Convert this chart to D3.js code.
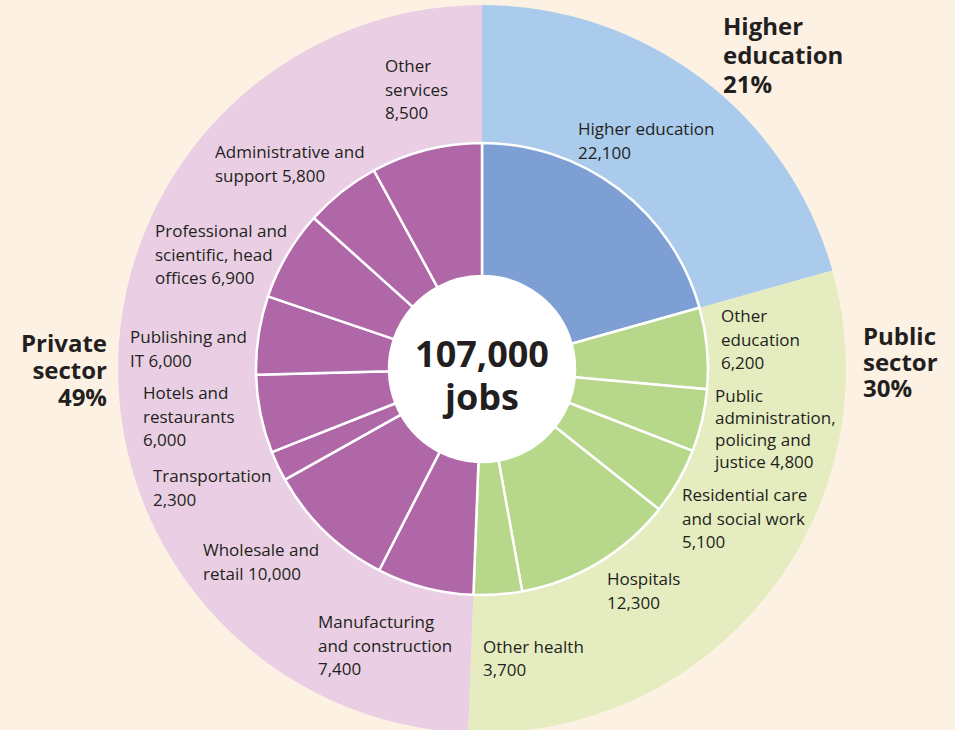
<!DOCTYPE html>
<html>
<head>
<meta charset="utf-8">
<script src="https://cdn.jsdelivr.net/npm/d3@7"></script>
<style>
  body { margin: 0; background: #fdf1e4; }
  svg { display: block; }
  text { font-family: "Open Sans", "Noto Sans", sans-serif; fill: #231f20; }
  .lbl { font-size: 17px; }
  .sector { font-size: 24px; font-weight: 700; }
  .centre { font-weight: 700; }
</style>
</head>
<body>
<svg class="donut" width="955" height="730"></svg>
<script>
// data
var categories = ["Higher education", "Other education", "Public administration", "Residential care",
  "Hospitals", "Other health", "Manufacturing and construction", "Wholesale and retail",
  "Transportation", "Hotels and restaurants", "Publishing and IT", "Professional and scientific",
  "Administrative and support", "Other services"];
var jobs = [22100, 6200, 4800, 5100, 12300, 3700, 7400, 10000, 2300, 6000, 6000, 6900, 5800, 8500];
var sectorOf = [0, 1, 1, 1, 1, 1, 2, 2, 2, 2, 2, 2, 2, 2];
var sectors = ["Higher education", "Public sector", "Private sector"];

// label text, {v} is replaced by the job count
var labelLines = [
  ["Higher education", "{v}"],
  ["Other", "education", "{v}"],
  ["Public", "administration,", "policing and", "justice {v}"],
  ["Residential care", "and social work", "{v}"],
  ["Hospitals", "{v}"],
  ["Other health", "{v}"],
  ["Manufacturing", "and construction", "{v}"],
  ["Wholesale and", "retail {v}"],
  ["Transportation", "{v}"],
  ["Hotels and", "restaurants", "{v}"],
  ["Publishing and", "IT {v}"],
  ["Professional and", "scientific, head", "offices {v}"],
  ["Administrative and", "support {v}"],
  ["Other", "services", "{v}"]
];
var sectorLines = [["Higher", "education", "{p}%"], ["Public", "sector", "{p}%"], ["Private", "sector", "{p}%"]];

// hand placed label spots (top line baseline)
var labelPos = [
  {x: 578, y: 135, dy: 23.5}, {x: 721, y: 322, dy: 23.5}, {x: 715, y: 402, dy: 22},
  {x: 682, y: 501, dy: 23.5}, {x: 607, y: 585, dy: 23.5}, {x: 483, y: 653, dy: 23},
  {x: 318, y: 628, dy: 23.5}, {x: 203, y: 556, dy: 23.5}, {x: 153, y: 482, dy: 23.5},
  {x: 143, y: 399, dy: 23.5}, {x: 130, y: 343, dy: 23.5}, {x: 155, y: 237, dy: 23.5},
  {x: 215, y: 158, dy: 23.5}, {x: 385, y: 72, dy: 23.5}
];
var sectorPos = [
  {x: 723, y: 35, dy: 29, anchor: "start"},
  {x: 863, y: 345, dy: 26, anchor: "start"},
  {x: 107, y: 352, dy: 27, anchor: "end"}
];

var outerColors = ["#aacbec", "#e5edc0", "#eacfe4"];
var innerColors = ["#7e9fd4", "#b7d88a", "#b067a8"];

var svg = d3.select('svg.donut');
var cx = 482, cy = 369;
var rOuter = 364, rRing = 226, rHole = 93;

var fmt = d3.format(",");
var total = d3.sum(jobs);
var sectorTotals = sectors.map(function(s, i) {
  return d3.sum(jobs.filter(function(d, j) { return sectorOf[j] === i; }));
});

var pie = d3.pie().sort(null).value(function(d) { return d; });

var chartG = svg.append('g')
  .attr('transform', 'translate(' + [cx, cy] + ')');

// outer ring - sectors
var outerArc = d3.arc().innerRadius(0).outerRadius(rOuter);
chartG.selectAll('.outer')
  .data(pie(sectorTotals))
  .enter().append('path')
  .attr('class', 'outer')
  .attr('d', outerArc)
  .style('fill', function(d, i) { return outerColors[i]; });

// inner ring - industries
var innerArc = d3.arc().innerRadius(rHole).outerRadius(rRing);
chartG.selectAll('.inner')
  .data(pie(jobs))
  .enter().append('path')
  .attr('class', 'inner')
  .attr('d', innerArc)
  .style('fill', function(d, i) { return innerColors[sectorOf[i]]; })
  .style('stroke', '#fff')
  .style('stroke-width', 2.5)
  .style('stroke-linejoin', 'round');

chartG.append('circle')
  .attr('r', rHole)
  .style('fill', '#fff');

// centre text
chartG.append('text')
  .attr('class', 'centre')
  .attr('text-anchor', 'middle')
  .attr('y', -2)
  .style('font-size', '36px')
  .text(fmt(Math.round(total / 1000) * 1000));
chartG.append('text')
  .attr('class', 'centre')
  .attr('text-anchor', 'middle')
  .attr('y', 41)
  .style('font-size', '36px')
  .text('jobs');

function multiline(sel, lines, pos) {
  var t = sel.append('text')
    .attr('x', pos.x)
    .attr('y', pos.y)
    .attr('text-anchor', pos.anchor || 'start');
  lines.forEach(function(line, k) {
    t.append('tspan')
      .attr('x', pos.x)
      .attr('dy', k === 0 ? 0 : pos.dy)
      .text(line);
  });
  return t;
}

var labelG = svg.append('g');
jobs.forEach(function(v, i) {
  var lines = labelLines[i].map(function(l) { return l.replace('{v}', fmt(v)); });
  multiline(labelG, lines, labelPos[i]).attr('class', 'lbl');
});

sectorTotals.forEach(function(v, i) {
  var p = Math.round(v / total * 100);
  var lines = sectorLines[i].map(function(l) { return l.replace('{p}', p); });
  multiline(labelG, lines, sectorPos[i]).attr('class', 'sector');
});
</script>
</body>
</html>
